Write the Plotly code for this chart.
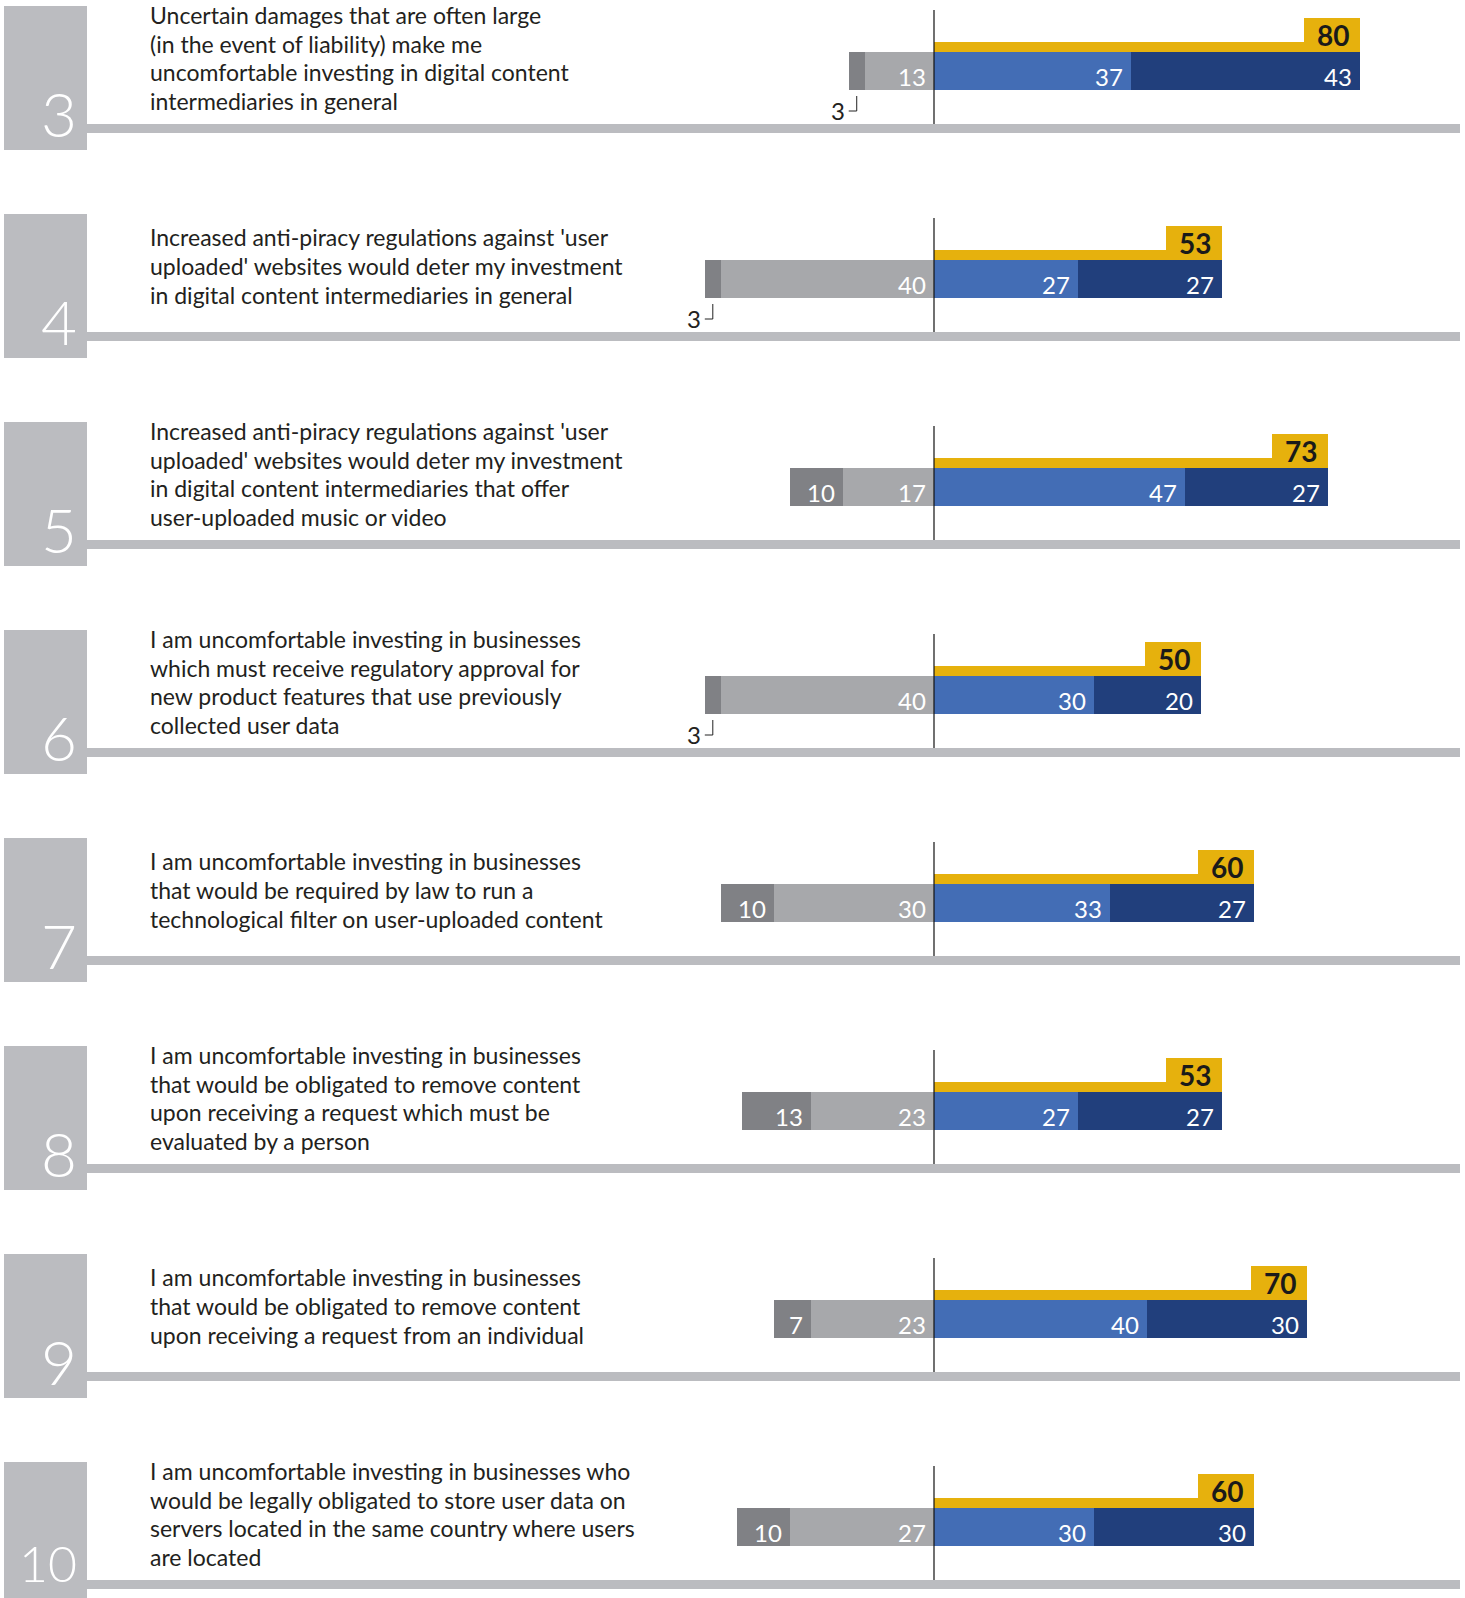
import plotly.graph_objects as go

# ---------------- data ----------------
ROW_NUMBERS = ["3", "4", "5", "6", "7", "8", "9", "10"]
STATEMENTS = [
    ["Uncertain damages that are often large", "(in the event of liability) make me",
     "uncomfortable investing in digital content", "intermediaries in general"],
    ["Increased anti-piracy regulations against 'user", "uploaded' websites would deter my investment",
     "in digital content intermediaries in general"],
    ["Increased anti-piracy regulations against 'user", "uploaded' websites would deter my investment",
     "in digital content intermediaries that offer", "user-uploaded music or video"],
    ["I am uncomfortable investing in businesses", "which must receive regulatory approval for",
     "new product features that use previously", "collected user data"],
    ["I am uncomfortable investing in businesses", "that would be required by law to run a",
     "technological filter on user-uploaded content"],
    ["I am uncomfortable investing in businesses", "that would be obligated to remove content",
     "upon receiving a request which must be", "evaluated by a person"],
    ["I am uncomfortable investing in businesses", "that would be obligated to remove content",
     "upon receiving a request from an individual"],
    ["I am uncomfortable investing in businesses who", "would be legally obligated to store user data on",
     "servers located in the same country where users", "are located"],
]
STRONGLY_DISAGREE = [3, 3, 10, 3, 10, 13, 7, 10]
DISAGREE = [13, 40, 17, 40, 30, 23, 23, 27]
AGREE = [37, 27, 47, 30, 33, 27, 40, 30]
STRONGLY_AGREE = [43, 27, 27, 20, 27, 27, 30, 30]
TOTAL_AGREE = [80, 53, 73, 50, 60, 53, 70, 60]

# ---------------- style / layout constants ----------------
W, H = 1465, 1598
CX = 934.0          # pixel of zero
PPU = 5.33          # pixels per unit
ROW0, ROW_STEP = 6, 208
FONT = "Lato"
C_YELLOW = "#E6B10D"
C_BLUE = "#436DB5"
C_NAVY = "#213F7C"
C_LGRAY = "#A7A8AB"
C_DGRAY = "#808185"
C_BLOCK = "#BBBCC0"
C_TEXT = "#231F20"

BAR_TOP, BAR_BOT = 46, 84
YEL_TOP, YEL_BOT = 36, 46
BOX_TOP = 12
BOX_W = 56 / PPU
LINE_H = 28.9
TEXT_MID = 52

def px2x(px):
    return (px - CX) / PPU

n = len(ROW_NUMBERS)
tops = [ROW0 + i * ROW_STEP for i in range(n)]
bar_y = [t + (BAR_TOP + BAR_BOT) / 2 for t in tops]
pos_end = [a + s for a, s in zip(AGREE, STRONGLY_AGREE)]

fig = go.Figure()

def hbar(x, base, y, width, color, name):
    fig.add_trace(go.Bar(orientation="h", x=x, base=base, y=y, width=width,
                         marker=dict(color=color, line=dict(width=0)),
                         name=name, hoverinfo="skip", showlegend=False))

hbar(STRONGLY_DISAGREE, [-(d + s) for d, s in zip(DISAGREE, STRONGLY_DISAGREE)],
     bar_y, [BAR_BOT - BAR_TOP] * n, C_DGRAY, "Strongly disagree")
hbar(DISAGREE, [-d for d in DISAGREE], bar_y, [BAR_BOT - BAR_TOP] * n, C_LGRAY, "Disagree")
hbar(AGREE, [0] * n, bar_y, [BAR_BOT - BAR_TOP] * n, C_BLUE, "Agree")
hbar(STRONGLY_AGREE, AGREE, bar_y, [BAR_BOT - BAR_TOP] * n, C_NAVY, "Strongly agree")
# yellow total bar + label box
hbar(pos_end, [0] * n, [t + (YEL_TOP + YEL_BOT) / 2 for t in tops],
     [YEL_BOT - YEL_TOP] * n, C_YELLOW, "Total agree")
hbar([BOX_W] * n, [e - BOX_W for e in pos_end], [t + (BOX_TOP + YEL_BOT) / 2 for t in tops],
     [YEL_BOT - BOX_TOP] * n, C_YELLOW, "Total box")

shapes = []
ann = []
for i, t in enumerate(tops):
    # number block
    shapes.append(dict(type="rect", xref="paper", yref="y", x0=4 / W, x1=87 / W,
                       y0=t, y1=t + 144, fillcolor=C_BLOCK, line=dict(width=0), layer="below"))
    # horizontal rule
    shapes.append(dict(type="rect", xref="paper", yref="y", x0=87 / W, x1=1460 / W,
                       y0=t + 118, y1=t + 127, fillcolor=C_BLOCK, line=dict(width=0), layer="below"))
    # zero line
    shapes.append(dict(type="line", xref="x", yref="y", x0=0, x1=0, y0=t + 4, y1=t + 118,
                       line=dict(color="#111111", width=1.2), layer="above"))
    num = ROW_NUMBERS[i]
    big = len(num) == 1
    ann.append(dict(xref="paper", yref="y", x=79 / W, y=t + (107 if big else 101),
                    text=num, showarrow=False, xanchor="right", yanchor="middle",
                    font=dict(family=FONT, size=62 if big else 50, color="white", weight=300)))
    lines = STATEMENTS[i]
    L = len(lines)
    for j, line in enumerate(lines):
        ann.append(dict(xref="paper", yref="y", x=148 / W,
                        y=t + TEXT_MID + (j - (L - 1) / 2) * LINE_H, text=line,
                        showarrow=False, xanchor="left", yanchor="middle", align="left",
                        font=dict(family=FONT, size=23, color=C_TEXT)))
    # values inside bars
    vy = t + 70
    for xv, val in [(0, DISAGREE[i]), (AGREE[i], AGREE[i]), (pos_end[i], STRONGLY_AGREE[i])]:
        ann.append(dict(xref="x", yref="y", x=xv, y=vy, text=str(val), showarrow=False,
                        xanchor="right", yanchor="middle", xshift=-6,
                        font=dict(family=FONT, size=24, color="white")))
    sd = STRONGLY_DISAGREE[i]
    left = -(DISAGREE[i] + sd)
    if sd >= 5:
        ann.append(dict(xref="x", yref="y", x=-DISAGREE[i], y=vy, text=str(sd), showarrow=False,
                        xanchor="right", yanchor="middle", xshift=-6,
                        font=dict(family=FONT, size=24, color="white")))
    else:
        mid = left + sd / 2
        shapes.append(dict(type="line", xref="x", yref="y", x0=mid, x1=mid,
                           y0=t + 90, y1=t + 105, line=dict(color="#222", width=1)))
        shapes.append(dict(type="line", xref="x", yref="y", x0=left, x1=mid,
                           y0=t + 105, y1=t + 105, line=dict(color="#222", width=1)))
        ann.append(dict(xref="x", yref="y", x=left, y=t + 104, text=str(sd), showarrow=False,
                        xanchor="right", yanchor="middle", xshift=-2,
                        font=dict(family=FONT, size=24, color=C_TEXT)))
    # total label
    ann.append(dict(xref="x", yref="y", x=pos_end[i], y=t + 29, text="<b>%d</b>" % TOTAL_AGREE[i],
                    showarrow=False, xanchor="right", yanchor="middle", xshift=-9,
                    font=dict(family=FONT, size=28, color="#1a1a1a")))

fig.update_layout(
    width=W, height=H, margin=dict(l=0, r=0, t=0, b=0),
    paper_bgcolor="white", plot_bgcolor="white",
    barmode="overlay", bargap=0,
    xaxis=dict(range=[px2x(0), px2x(W)], visible=False, fixedrange=True),
    yaxis=dict(range=[H, 0], visible=False, fixedrange=True),
    shapes=shapes, annotations=ann, showlegend=False,
)

fig.write_html("out.html", config={"displayModeBar": False},
               post_script="document.body.style.margin='0';document.body.style.overflow='hidden';")
